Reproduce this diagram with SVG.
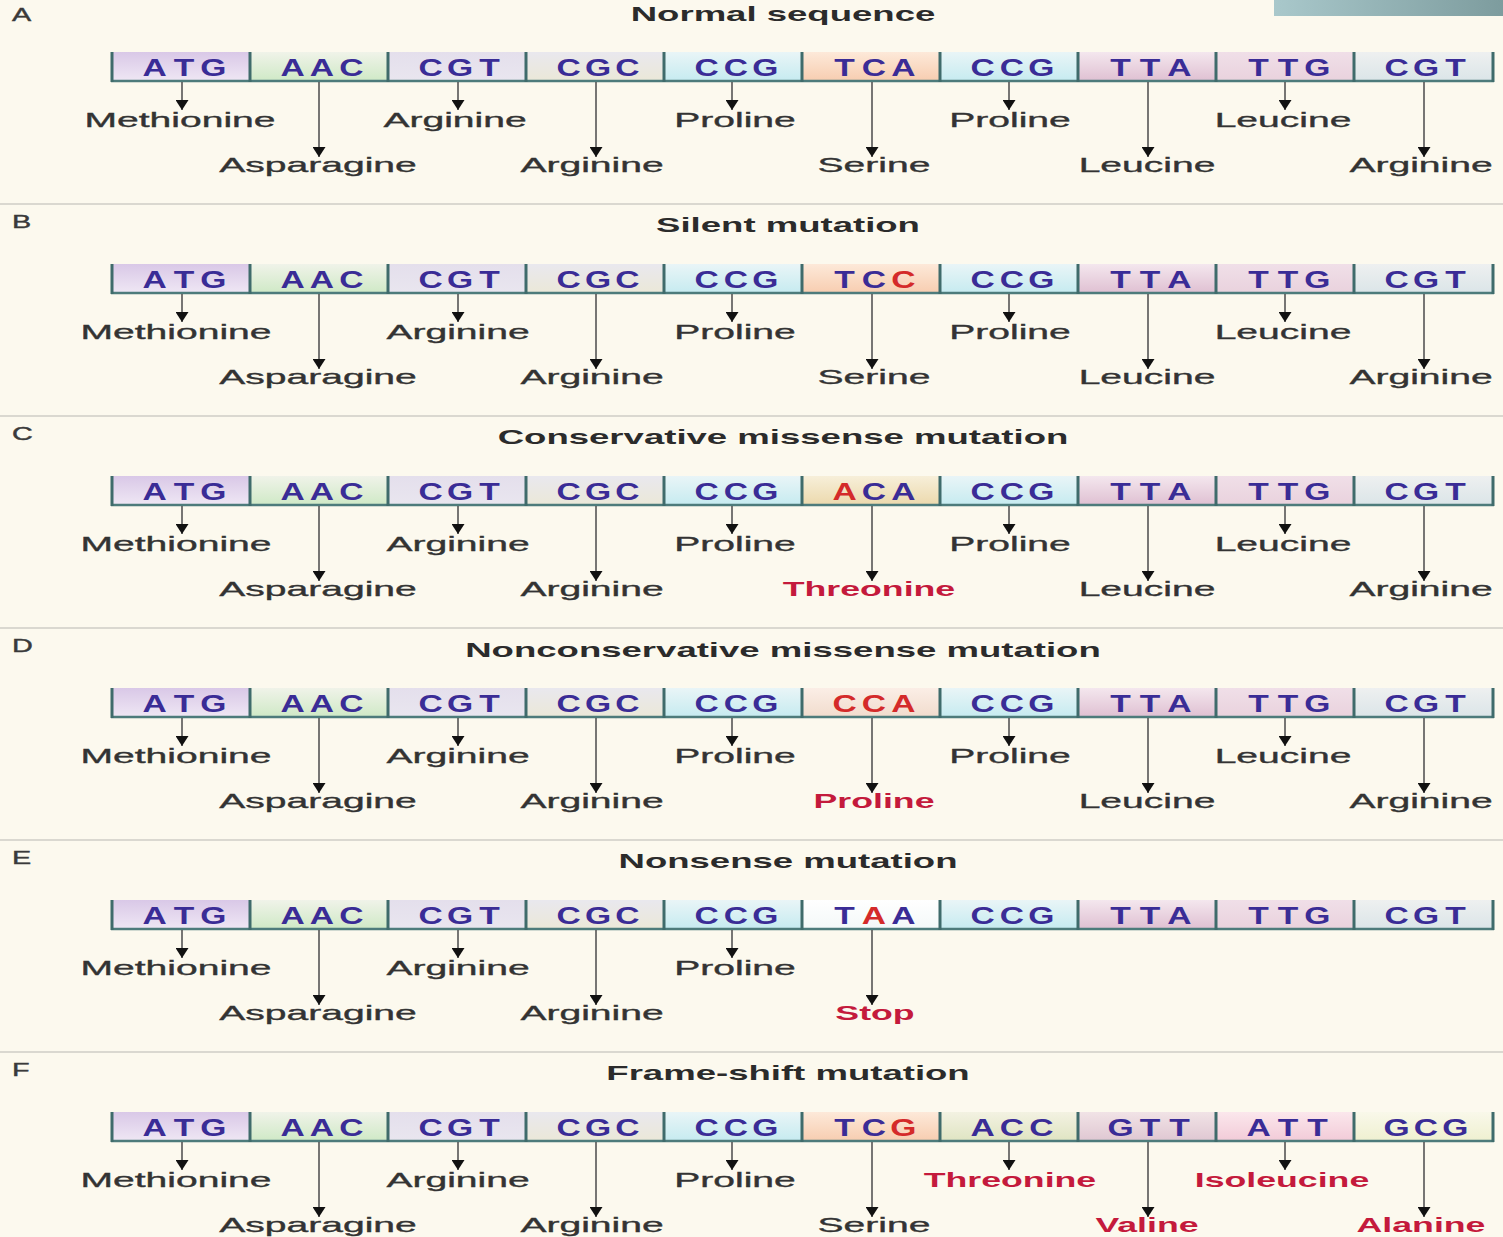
<svg xmlns="http://www.w3.org/2000/svg" width="1503" height="1237" viewBox="0 0 1503 1237">
<defs>
<linearGradient id="atg" x1="0" y1="0" x2="0" y2="1"><stop offset="0" stop-color="#d9c8e7"/><stop offset="1" stop-color="#efe7f4"/></linearGradient>
<linearGradient id="aac" x1="0" y1="0" x2="0" y2="1"><stop offset="0" stop-color="#f0f3e9"/><stop offset="1" stop-color="#cfe9c6"/></linearGradient>
<linearGradient id="cgt" x1="0" y1="0" x2="0" y2="1"><stop offset="0" stop-color="#e4dfec"/><stop offset="1" stop-color="#e9e6ef"/></linearGradient>
<linearGradient id="cgc" x1="0" y1="0" x2="0" y2="1"><stop offset="0" stop-color="#e9e8ee"/><stop offset="1" stop-color="#ebe8d8"/></linearGradient>
<linearGradient id="ccg" x1="0" y1="0" x2="0" y2="1"><stop offset="0" stop-color="#e9f5f7"/><stop offset="1" stop-color="#c6ebf0"/></linearGradient>
<linearGradient id="tca" x1="0" y1="0" x2="0" y2="1"><stop offset="0" stop-color="#fde9d9"/><stop offset="1" stop-color="#f7cdb0"/></linearGradient>
<linearGradient id="tta" x1="0" y1="0" x2="0" y2="1"><stop offset="0" stop-color="#f4e7ee"/><stop offset="1" stop-color="#dfc0d2"/></linearGradient>
<linearGradient id="ttg" x1="0" y1="0" x2="0" y2="1"><stop offset="0" stop-color="#f0dfe8"/><stop offset="1" stop-color="#e9d2dd"/></linearGradient>
<linearGradient id="cgt2" x1="0" y1="0" x2="0" y2="1"><stop offset="0" stop-color="#eef0f0"/><stop offset="1" stop-color="#dbe5e8"/></linearGradient>
<linearGradient id="aca" x1="0" y1="0" x2="0" y2="1"><stop offset="0" stop-color="#f7efd9"/><stop offset="1" stop-color="#ecd9ad"/></linearGradient>
<linearGradient id="cca" x1="0" y1="0" x2="0" y2="1"><stop offset="0" stop-color="#fbeee6"/><stop offset="1" stop-color="#f1dccd"/></linearGradient>
<linearGradient id="taa" x1="0" y1="0" x2="0" y2="1"><stop offset="0" stop-color="#ffffff"/><stop offset="1" stop-color="#f3f8f8"/></linearGradient>
<linearGradient id="acc" x1="0" y1="0" x2="0" y2="1"><stop offset="0" stop-color="#f3f2e2"/><stop offset="1" stop-color="#dfe4c2"/></linearGradient>
<linearGradient id="gtt" x1="0" y1="0" x2="0" y2="1"><stop offset="0" stop-color="#f1e3e6"/><stop offset="1" stop-color="#dfc7d2"/></linearGradient>
<linearGradient id="att" x1="0" y1="0" x2="0" y2="1"><stop offset="0" stop-color="#fbe7ec"/><stop offset="1" stop-color="#f2cbd8"/></linearGradient>
<linearGradient id="gcg" x1="0" y1="0" x2="0" y2="1"><stop offset="0" stop-color="#f9f8ea"/><stop offset="1" stop-color="#eff0d0"/></linearGradient>
<linearGradient id="corner" x1="0" y1="0" x2="1" y2="0"><stop offset="0" stop-color="#a9c8cb"/><stop offset="1" stop-color="#7d9c9e"/></linearGradient>
<marker id="ah" viewBox="0 0 10 13" refX="10" refY="6.5" markerWidth="10" markerHeight="13" markerUnits="userSpaceOnUse" orient="auto"><path d="M0,0 L10,6.5 L0,13 Z" fill="#111"/></marker>
<g id="strip">
<line class="base" x1="111" y1="81" x2="1494" y2="81"/>
<line class="bar" x1="112" y1="52" x2="112" y2="82"/>
<line class="bar" x1="250" y1="52" x2="250" y2="82"/>
<line class="bar" x1="388" y1="52" x2="388" y2="82"/>
<line class="bar" x1="526" y1="52" x2="526" y2="82"/>
<line class="bar" x1="664" y1="52" x2="664" y2="82"/>
<line class="bar" x1="802" y1="52" x2="802" y2="82"/>
<line class="bar" x1="940" y1="52" x2="940" y2="82"/>
<line class="bar" x1="1078" y1="52" x2="1078" y2="82"/>
<line class="bar" x1="1216" y1="52" x2="1216" y2="82"/>
<line class="bar" x1="1354" y1="52" x2="1354" y2="82"/>
<line class="bar" x1="1493" y1="52" x2="1493" y2="82"/>
</g>
</defs>
<style>
.cod{font-family:"Liberation Sans",Arial,sans-serif;font-weight:bold;font-size:24px;fill:#3a2c96;text-anchor:middle}
.r{fill:#d42a2a}
.lab{font-family:"Liberation Sans",Arial,sans-serif;font-size:21px;fill:#333;stroke:#333;stroke-width:0.35;text-anchor:middle}
.red{fill:#c41a3c;stroke:none;font-weight:bold}
.ttl{font-family:"Liberation Sans",Arial,sans-serif;font-weight:bold;font-size:21px;fill:#2b2b2b;text-anchor:middle}
.pl{font-family:"Liberation Sans",Arial,sans-serif;font-size:18px;fill:#3a3a3a;stroke:#3a3a3a;stroke-width:0.4}
.bar{stroke:#3f6b6b;stroke-width:3}
.base{stroke:#4d7b7b;stroke-width:2.5}
.arr{stroke:#555;stroke-width:1.6;marker-end:url(#ah)}
.div{stroke:#dad8d0;stroke-width:2}
</style>
<rect width="1503" height="1237" fill="#fcf9ee"/>
<rect x="1274" y="0" width="229" height="16" fill="url(#corner)"/>
<g id="dividers">
<line class="div" x1="0" y1="204" x2="1503" y2="204"/>
<line class="div" x1="0" y1="416" x2="1503" y2="416"/>
<line class="div" x1="0" y1="628" x2="1503" y2="628"/>
<line class="div" x1="0" y1="840" x2="1503" y2="840"/>
<line class="div" x1="0" y1="1052" x2="1503" y2="1052"/>
</g>

<!-- Panel A -->
<g id="panel-A">
<text class="pl" transform="translate(12,21) scale(1.6,1)">A</text>
<text class="ttl" transform="translate(783,21) scale(1.74,1)">Normal sequence</text>
<g id="A-c1"><rect x="112" y="52" width="138" height="29" fill="url(#atg)"/><text class="cod" transform="translate(184,76) scale(1.4,1)" x="-21 0 21">ATG</text></g>
<g id="A-c2"><rect x="250" y="52" width="138" height="29" fill="url(#aac)"/><text class="cod" transform="translate(322,76) scale(1.4,1)" x="-21 0 21">AAC</text></g>
<g id="A-c3"><rect x="388" y="52" width="138" height="29" fill="url(#cgt)"/><text class="cod" transform="translate(460,76) scale(1.4,1)" x="-21 0 21">CGT</text></g>
<g id="A-c4"><rect x="526" y="52" width="138" height="29" fill="url(#cgc)"/><text class="cod" transform="translate(598,76) scale(1.4,1)" x="-21 0 21">CGC</text></g>
<g id="A-c5"><rect x="664" y="52" width="138" height="29" fill="url(#ccg)"/><text class="cod" transform="translate(736,76) scale(1.4,1)" x="-21 0 21">CCG</text></g>
<g id="A-c6"><rect x="802" y="52" width="138" height="29" fill="url(#tca)"/><text class="cod" transform="translate(874,76) scale(1.4,1)" x="-21 0 21">TCA</text></g>
<g id="A-c7"><rect x="940" y="52" width="138" height="29" fill="url(#ccg)"/><text class="cod" transform="translate(1012,76) scale(1.4,1)" x="-21 0 21">CCG</text></g>
<g id="A-c8"><rect x="1078" y="52" width="138" height="29" fill="url(#tta)"/><text class="cod" transform="translate(1150,76) scale(1.4,1)" x="-21 0 21">TTA</text></g>
<g id="A-c9"><rect x="1216" y="52" width="138" height="29" fill="url(#ttg)"/><text class="cod" transform="translate(1288,76) scale(1.4,1)" x="-21 0 21">TTG</text></g>
<g id="A-c10"><rect x="1354" y="52" width="139" height="29" fill="url(#cgt2)"/><text class="cod" transform="translate(1426,76) scale(1.4,1)" x="-21 0 21">CGT</text></g>
<use href="#strip"/>
<g id="A-l1"><text class="lab" transform="translate(180,127) scale(1.86,1)">Methionine</text></g>
<g id="A-l2"><text class="lab" transform="translate(318,172) scale(1.86,1)">Asparagine</text></g>
<g id="A-l3"><text class="lab" transform="translate(455,127) scale(1.86,1)">Arginine</text></g>
<g id="A-l4"><text class="lab" transform="translate(592,172) scale(1.86,1)">Arginine</text></g>
<g id="A-l5"><text class="lab" transform="translate(735,127) scale(1.86,1)">Proline</text></g>
<g id="A-l6"><text class="lab" transform="translate(874,172) scale(1.86,1)">Serine</text></g>
<g id="A-l7"><text class="lab" transform="translate(1010,127) scale(1.86,1)">Proline</text></g>
<g id="A-l8"><text class="lab" transform="translate(1147,172) scale(1.86,1)">Leucine</text></g>
<g id="A-l9"><text class="lab" transform="translate(1283,127) scale(1.86,1)">Leucine</text></g>
<g id="A-l10"><text class="lab" transform="translate(1421,172) scale(1.86,1)">Arginine</text></g>
</g>

<!-- Panel B -->
<g id="panel-B" transform="translate(0,212)">
<text class="pl" transform="translate(12,16) scale(1.6,1)">B</text>
<text class="ttl" transform="translate(788,20) scale(1.74,1)">Silent mutation</text>
<g id="B-c1"><rect x="112" y="52" width="138" height="29" fill="url(#atg)"/><text class="cod" transform="translate(184,76) scale(1.4,1)" x="-21 0 21">ATG</text></g>
<g id="B-c2"><rect x="250" y="52" width="138" height="29" fill="url(#aac)"/><text class="cod" transform="translate(322,76) scale(1.4,1)" x="-21 0 21">AAC</text></g>
<g id="B-c3"><rect x="388" y="52" width="138" height="29" fill="url(#cgt)"/><text class="cod" transform="translate(460,76) scale(1.4,1)" x="-21 0 21">CGT</text></g>
<g id="B-c4"><rect x="526" y="52" width="138" height="29" fill="url(#cgc)"/><text class="cod" transform="translate(598,76) scale(1.4,1)" x="-21 0 21">CGC</text></g>
<g id="B-c5"><rect x="664" y="52" width="138" height="29" fill="url(#ccg)"/><text class="cod" transform="translate(736,76) scale(1.4,1)" x="-21 0 21">CCG</text></g>
<g id="B-c6"><rect x="802" y="52" width="138" height="29" fill="url(#tca)"/><text class="cod" transform="translate(874,76) scale(1.4,1)"><tspan x="-21">T</tspan><tspan x="0">C</tspan><tspan x="21" class="r">C</tspan></text></g>
<g id="B-c7"><rect x="940" y="52" width="138" height="29" fill="url(#ccg)"/><text class="cod" transform="translate(1012,76) scale(1.4,1)" x="-21 0 21">CCG</text></g>
<g id="B-c8"><rect x="1078" y="52" width="138" height="29" fill="url(#tta)"/><text class="cod" transform="translate(1150,76) scale(1.4,1)" x="-21 0 21">TTA</text></g>
<g id="B-c9"><rect x="1216" y="52" width="138" height="29" fill="url(#ttg)"/><text class="cod" transform="translate(1288,76) scale(1.4,1)" x="-21 0 21">TTG</text></g>
<g id="B-c10"><rect x="1354" y="52" width="139" height="29" fill="url(#cgt2)"/><text class="cod" transform="translate(1426,76) scale(1.4,1)" x="-21 0 21">CGT</text></g>
<use href="#strip"/>
<g id="B-l1"><text class="lab" transform="translate(176,127) scale(1.86,1)">Methionine</text></g>
<g id="B-l2"><text class="lab" transform="translate(318,172) scale(1.86,1)">Asparagine</text></g>
<g id="B-l3"><text class="lab" transform="translate(458,127) scale(1.86,1)">Arginine</text></g>
<g id="B-l4"><text class="lab" transform="translate(592,172) scale(1.86,1)">Arginine</text></g>
<g id="B-l5"><text class="lab" transform="translate(735,127) scale(1.86,1)">Proline</text></g>
<g id="B-l6"><text class="lab" transform="translate(874,172) scale(1.86,1)">Serine</text></g>
<g id="B-l7"><text class="lab" transform="translate(1010,127) scale(1.86,1)">Proline</text></g>
<g id="B-l8"><text class="lab" transform="translate(1147,172) scale(1.86,1)">Leucine</text></g>
<g id="B-l9"><text class="lab" transform="translate(1283,127) scale(1.86,1)">Leucine</text></g>
<g id="B-l10"><text class="lab" transform="translate(1421,172) scale(1.86,1)">Arginine</text></g>
</g>

<!-- Panel C -->
<g id="panel-C" transform="translate(0,424)">
<text class="pl" transform="translate(12,16) scale(1.6,1)">C</text>
<text class="ttl" transform="translate(783,20) scale(1.74,1)">Conservative missense mutation</text>
<g id="C-c1"><rect x="112" y="52" width="138" height="29" fill="url(#atg)"/><text class="cod" transform="translate(184,76) scale(1.4,1)" x="-21 0 21">ATG</text></g>
<g id="C-c2"><rect x="250" y="52" width="138" height="29" fill="url(#aac)"/><text class="cod" transform="translate(322,76) scale(1.4,1)" x="-21 0 21">AAC</text></g>
<g id="C-c3"><rect x="388" y="52" width="138" height="29" fill="url(#cgt)"/><text class="cod" transform="translate(460,76) scale(1.4,1)" x="-21 0 21">CGT</text></g>
<g id="C-c4"><rect x="526" y="52" width="138" height="29" fill="url(#cgc)"/><text class="cod" transform="translate(598,76) scale(1.4,1)" x="-21 0 21">CGC</text></g>
<g id="C-c5"><rect x="664" y="52" width="138" height="29" fill="url(#ccg)"/><text class="cod" transform="translate(736,76) scale(1.4,1)" x="-21 0 21">CCG</text></g>
<g id="C-c6"><rect x="802" y="52" width="138" height="29" fill="url(#aca)"/><text class="cod" transform="translate(874,76) scale(1.4,1)"><tspan x="-21" class="r">A</tspan><tspan x="0">C</tspan><tspan x="21">A</tspan></text></g>
<g id="C-c7"><rect x="940" y="52" width="138" height="29" fill="url(#ccg)"/><text class="cod" transform="translate(1012,76) scale(1.4,1)" x="-21 0 21">CCG</text></g>
<g id="C-c8"><rect x="1078" y="52" width="138" height="29" fill="url(#tta)"/><text class="cod" transform="translate(1150,76) scale(1.4,1)" x="-21 0 21">TTA</text></g>
<g id="C-c9"><rect x="1216" y="52" width="138" height="29" fill="url(#ttg)"/><text class="cod" transform="translate(1288,76) scale(1.4,1)" x="-21 0 21">TTG</text></g>
<g id="C-c10"><rect x="1354" y="52" width="139" height="29" fill="url(#cgt2)"/><text class="cod" transform="translate(1426,76) scale(1.4,1)" x="-21 0 21">CGT</text></g>
<use href="#strip"/>
<g id="C-l1"><text class="lab" transform="translate(176,127) scale(1.86,1)">Methionine</text></g>
<g id="C-l2"><text class="lab" transform="translate(318,172) scale(1.86,1)">Asparagine</text></g>
<g id="C-l3"><text class="lab" transform="translate(458,127) scale(1.86,1)">Arginine</text></g>
<g id="C-l4"><text class="lab" transform="translate(592,172) scale(1.86,1)">Arginine</text></g>
<g id="C-l5"><text class="lab" transform="translate(735,127) scale(1.86,1)">Proline</text></g>
<g id="C-l6"><text class="lab red" transform="translate(869,172) scale(1.7,1)">Threonine</text></g>
<g id="C-l7"><text class="lab" transform="translate(1010,127) scale(1.86,1)">Proline</text></g>
<g id="C-l8"><text class="lab" transform="translate(1147,172) scale(1.86,1)">Leucine</text></g>
<g id="C-l9"><text class="lab" transform="translate(1283,127) scale(1.86,1)">Leucine</text></g>
<g id="C-l10"><text class="lab" transform="translate(1421,172) scale(1.86,1)">Arginine</text></g>
</g>

<!-- Panel D -->
<g id="panel-D" transform="translate(0,636)">
<text class="pl" transform="translate(12,16) scale(1.6,1)">D</text>
<text class="ttl" transform="translate(783,21) scale(1.74,1)">Nonconservative missense mutation</text>
<g id="D-c1"><rect x="112" y="52" width="138" height="29" fill="url(#atg)"/><text class="cod" transform="translate(184,76) scale(1.4,1)" x="-21 0 21">ATG</text></g>
<g id="D-c2"><rect x="250" y="52" width="138" height="29" fill="url(#aac)"/><text class="cod" transform="translate(322,76) scale(1.4,1)" x="-21 0 21">AAC</text></g>
<g id="D-c3"><rect x="388" y="52" width="138" height="29" fill="url(#cgt)"/><text class="cod" transform="translate(460,76) scale(1.4,1)" x="-21 0 21">CGT</text></g>
<g id="D-c4"><rect x="526" y="52" width="138" height="29" fill="url(#cgc)"/><text class="cod" transform="translate(598,76) scale(1.4,1)" x="-21 0 21">CGC</text></g>
<g id="D-c5"><rect x="664" y="52" width="138" height="29" fill="url(#ccg)"/><text class="cod" transform="translate(736,76) scale(1.4,1)" x="-21 0 21">CCG</text></g>
<g id="D-c6"><rect x="802" y="52" width="138" height="29" fill="url(#cca)"/><text class="cod r" transform="translate(874,76) scale(1.4,1)" x="-21 0 21">CCA</text></g>
<g id="D-c7"><rect x="940" y="52" width="138" height="29" fill="url(#ccg)"/><text class="cod" transform="translate(1012,76) scale(1.4,1)" x="-21 0 21">CCG</text></g>
<g id="D-c8"><rect x="1078" y="52" width="138" height="29" fill="url(#tta)"/><text class="cod" transform="translate(1150,76) scale(1.4,1)" x="-21 0 21">TTA</text></g>
<g id="D-c9"><rect x="1216" y="52" width="138" height="29" fill="url(#ttg)"/><text class="cod" transform="translate(1288,76) scale(1.4,1)" x="-21 0 21">TTG</text></g>
<g id="D-c10"><rect x="1354" y="52" width="139" height="29" fill="url(#cgt2)"/><text class="cod" transform="translate(1426,76) scale(1.4,1)" x="-21 0 21">CGT</text></g>
<use href="#strip"/>
<g id="D-l1"><text class="lab" transform="translate(176,127) scale(1.86,1)">Methionine</text></g>
<g id="D-l2"><text class="lab" transform="translate(318,172) scale(1.86,1)">Asparagine</text></g>
<g id="D-l3"><text class="lab" transform="translate(458,127) scale(1.86,1)">Arginine</text></g>
<g id="D-l4"><text class="lab" transform="translate(592,172) scale(1.86,1)">Arginine</text></g>
<g id="D-l5"><text class="lab" transform="translate(735,127) scale(1.86,1)">Proline</text></g>
<g id="D-l6"><text class="lab red" transform="translate(874,172) scale(1.7,1)">Proline</text></g>
<g id="D-l7"><text class="lab" transform="translate(1010,127) scale(1.86,1)">Proline</text></g>
<g id="D-l8"><text class="lab" transform="translate(1147,172) scale(1.86,1)">Leucine</text></g>
<g id="D-l9"><text class="lab" transform="translate(1283,127) scale(1.86,1)">Leucine</text></g>
<g id="D-l10"><text class="lab" transform="translate(1421,172) scale(1.86,1)">Arginine</text></g>
</g>

<!-- Panel E -->
<g id="panel-E" transform="translate(0,848)">
<text class="pl" transform="translate(12,16) scale(1.6,1)">E</text>
<text class="ttl" transform="translate(788,20) scale(1.74,1)">Nonsense mutation</text>
<g id="E-c1"><rect x="112" y="52" width="138" height="29" fill="url(#atg)"/><text class="cod" transform="translate(184,76) scale(1.4,1)" x="-21 0 21">ATG</text></g>
<g id="E-c2"><rect x="250" y="52" width="138" height="29" fill="url(#aac)"/><text class="cod" transform="translate(322,76) scale(1.4,1)" x="-21 0 21">AAC</text></g>
<g id="E-c3"><rect x="388" y="52" width="138" height="29" fill="url(#cgt)"/><text class="cod" transform="translate(460,76) scale(1.4,1)" x="-21 0 21">CGT</text></g>
<g id="E-c4"><rect x="526" y="52" width="138" height="29" fill="url(#cgc)"/><text class="cod" transform="translate(598,76) scale(1.4,1)" x="-21 0 21">CGC</text></g>
<g id="E-c5"><rect x="664" y="52" width="138" height="29" fill="url(#ccg)"/><text class="cod" transform="translate(736,76) scale(1.4,1)" x="-21 0 21">CCG</text></g>
<g id="E-c6"><rect x="802" y="52" width="138" height="29" fill="url(#taa)"/><text class="cod" transform="translate(874,76) scale(1.4,1)"><tspan x="-21">T</tspan><tspan x="0" class="r">A</tspan><tspan x="21">A</tspan></text></g>
<g id="E-c7"><rect x="940" y="52" width="138" height="29" fill="url(#ccg)"/><text class="cod" transform="translate(1012,76) scale(1.4,1)" x="-21 0 21">CCG</text></g>
<g id="E-c8"><rect x="1078" y="52" width="138" height="29" fill="url(#tta)"/><text class="cod" transform="translate(1150,76) scale(1.4,1)" x="-21 0 21">TTA</text></g>
<g id="E-c9"><rect x="1216" y="52" width="138" height="29" fill="url(#ttg)"/><text class="cod" transform="translate(1288,76) scale(1.4,1)" x="-21 0 21">TTG</text></g>
<g id="E-c10"><rect x="1354" y="52" width="139" height="29" fill="url(#cgt2)"/><text class="cod" transform="translate(1426,76) scale(1.4,1)" x="-21 0 21">CGT</text></g>
<use href="#strip"/>
<g id="E-l1"><text class="lab" transform="translate(176,127) scale(1.86,1)">Methionine</text></g>
<g id="E-l2"><text class="lab" transform="translate(318,172) scale(1.86,1)">Asparagine</text></g>
<g id="E-l3"><text class="lab" transform="translate(458,127) scale(1.86,1)">Arginine</text></g>
<g id="E-l4"><text class="lab" transform="translate(592,172) scale(1.86,1)">Arginine</text></g>
<g id="E-l5"><text class="lab" transform="translate(735,127) scale(1.86,1)">Proline</text></g>
<g id="E-l6"><text class="lab red" transform="translate(875,172) scale(1.7,1)">Stop</text></g>
</g>

<!-- Panel F -->
<g id="panel-F" transform="translate(0,1060)">
<text class="pl" transform="translate(12,16) scale(1.6,1)">F</text>
<text class="ttl" transform="translate(788,20) scale(1.74,1)">Frame-shift mutation</text>
<g id="F-c1"><rect x="112" y="52" width="138" height="29" fill="url(#atg)"/><text class="cod" transform="translate(184,76) scale(1.4,1)" x="-21 0 21">ATG</text></g>
<g id="F-c2"><rect x="250" y="52" width="138" height="29" fill="url(#aac)"/><text class="cod" transform="translate(322,76) scale(1.4,1)" x="-21 0 21">AAC</text></g>
<g id="F-c3"><rect x="388" y="52" width="138" height="29" fill="url(#cgt)"/><text class="cod" transform="translate(460,76) scale(1.4,1)" x="-21 0 21">CGT</text></g>
<g id="F-c4"><rect x="526" y="52" width="138" height="29" fill="url(#cgc)"/><text class="cod" transform="translate(598,76) scale(1.4,1)" x="-21 0 21">CGC</text></g>
<g id="F-c5"><rect x="664" y="52" width="138" height="29" fill="url(#ccg)"/><text class="cod" transform="translate(736,76) scale(1.4,1)" x="-21 0 21">CCG</text></g>
<g id="F-c6"><rect x="802" y="52" width="138" height="29" fill="url(#tca)"/><text class="cod" transform="translate(874,76) scale(1.4,1)"><tspan x="-21">T</tspan><tspan x="0">C</tspan><tspan x="21" class="r">G</tspan></text></g>
<g id="F-c7"><rect x="940" y="52" width="138" height="29" fill="url(#acc)"/><text class="cod" transform="translate(1012,76) scale(1.4,1)" x="-21 0 21">ACC</text></g>
<g id="F-c8"><rect x="1078" y="52" width="138" height="29" fill="url(#gtt)"/><text class="cod" transform="translate(1150,76) scale(1.4,1)" x="-21 0 21">GTT</text></g>
<g id="F-c9"><rect x="1216" y="52" width="138" height="29" fill="url(#att)"/><text class="cod" transform="translate(1288,76) scale(1.4,1)" x="-21 0 21">ATT</text></g>
<g id="F-c10"><rect x="1354" y="52" width="139" height="29" fill="url(#gcg)"/><text class="cod" transform="translate(1426,76) scale(1.4,1)" x="-21 0 21">GCG</text></g>
<use href="#strip"/>
<g id="F-l1"><text class="lab" transform="translate(176,127) scale(1.86,1)">Methionine</text></g>
<g id="F-l2"><text class="lab" transform="translate(318,172) scale(1.86,1)">Asparagine</text></g>
<g id="F-l3"><text class="lab" transform="translate(458,127) scale(1.86,1)">Arginine</text></g>
<g id="F-l4"><text class="lab" transform="translate(592,172) scale(1.86,1)">Arginine</text></g>
<g id="F-l5"><text class="lab" transform="translate(735,127) scale(1.86,1)">Proline</text></g>
<g id="F-l6"><text class="lab" transform="translate(874,172) scale(1.86,1)">Serine</text></g>
<g id="F-l7"><text class="lab red" transform="translate(1010,127) scale(1.7,1)">Threonine</text></g>
<g id="F-l8"><text class="lab red" transform="translate(1147,172) scale(1.7,1)">Valine</text></g>
<g id="F-l9"><text class="lab red" transform="translate(1282,127) scale(1.7,1)">Isoleucine</text></g>
<g id="F-l10"><text class="lab red" transform="translate(1421,172) scale(1.7,1)">Alanine</text></g>
</g>

<!-- Connectors -->
<g id="connectors">
<g id="conn-A">
<line class="arr" x1="182" y1="82" x2="182" y2="110"/><line class="arr" x1="319" y1="82" x2="319" y2="157"/><line class="arr" x1="458" y1="82" x2="458" y2="110"/><line class="arr" x1="596" y1="82" x2="596" y2="157"/><line class="arr" x1="732" y1="82" x2="732" y2="110"/><line class="arr" x1="872" y1="82" x2="872" y2="157"/><line class="arr" x1="1009" y1="82" x2="1009" y2="110"/><line class="arr" x1="1148" y1="82" x2="1148" y2="157"/><line class="arr" x1="1285" y1="82" x2="1285" y2="110"/><line class="arr" x1="1424" y1="82" x2="1424" y2="157"/>
</g>
<g id="conn-B" transform="translate(0,212)">
<line class="arr" x1="182" y1="82" x2="182" y2="110"/><line class="arr" x1="319" y1="82" x2="319" y2="157"/><line class="arr" x1="458" y1="82" x2="458" y2="110"/><line class="arr" x1="596" y1="82" x2="596" y2="157"/><line class="arr" x1="732" y1="82" x2="732" y2="110"/><line class="arr" x1="872" y1="82" x2="872" y2="157"/><line class="arr" x1="1009" y1="82" x2="1009" y2="110"/><line class="arr" x1="1148" y1="82" x2="1148" y2="157"/><line class="arr" x1="1285" y1="82" x2="1285" y2="110"/><line class="arr" x1="1424" y1="82" x2="1424" y2="157"/>
</g>
<g id="conn-C" transform="translate(0,424)">
<line class="arr" x1="182" y1="82" x2="182" y2="110"/><line class="arr" x1="319" y1="82" x2="319" y2="157"/><line class="arr" x1="458" y1="82" x2="458" y2="110"/><line class="arr" x1="596" y1="82" x2="596" y2="157"/><line class="arr" x1="732" y1="82" x2="732" y2="110"/><line class="arr" x1="872" y1="82" x2="872" y2="157"/><line class="arr" x1="1009" y1="82" x2="1009" y2="110"/><line class="arr" x1="1148" y1="82" x2="1148" y2="157"/><line class="arr" x1="1285" y1="82" x2="1285" y2="110"/><line class="arr" x1="1424" y1="82" x2="1424" y2="157"/>
</g>
<g id="conn-D" transform="translate(0,636)">
<line class="arr" x1="182" y1="82" x2="182" y2="110"/><line class="arr" x1="319" y1="82" x2="319" y2="157"/><line class="arr" x1="458" y1="82" x2="458" y2="110"/><line class="arr" x1="596" y1="82" x2="596" y2="157"/><line class="arr" x1="732" y1="82" x2="732" y2="110"/><line class="arr" x1="872" y1="82" x2="872" y2="157"/><line class="arr" x1="1009" y1="82" x2="1009" y2="110"/><line class="arr" x1="1148" y1="82" x2="1148" y2="157"/><line class="arr" x1="1285" y1="82" x2="1285" y2="110"/><line class="arr" x1="1424" y1="82" x2="1424" y2="157"/>
</g>
<g id="conn-E" transform="translate(0,848)">
<line class="arr" x1="182" y1="82" x2="182" y2="110"/><line class="arr" x1="319" y1="82" x2="319" y2="157"/><line class="arr" x1="458" y1="82" x2="458" y2="110"/><line class="arr" x1="596" y1="82" x2="596" y2="157"/><line class="arr" x1="732" y1="82" x2="732" y2="110"/><line class="arr" x1="872" y1="82" x2="872" y2="157"/>
</g>
<g id="conn-F" transform="translate(0,1060)">
<line class="arr" x1="182" y1="82" x2="182" y2="110"/><line class="arr" x1="319" y1="82" x2="319" y2="157"/><line class="arr" x1="458" y1="82" x2="458" y2="110"/><line class="arr" x1="596" y1="82" x2="596" y2="157"/><line class="arr" x1="732" y1="82" x2="732" y2="110"/><line class="arr" x1="872" y1="82" x2="872" y2="157"/><line class="arr" x1="1009" y1="82" x2="1009" y2="110"/><line class="arr" x1="1148" y1="82" x2="1148" y2="157"/><line class="arr" x1="1285" y1="82" x2="1285" y2="110"/><line class="arr" x1="1424" y1="82" x2="1424" y2="157"/>
</g>
</g>
</svg>
